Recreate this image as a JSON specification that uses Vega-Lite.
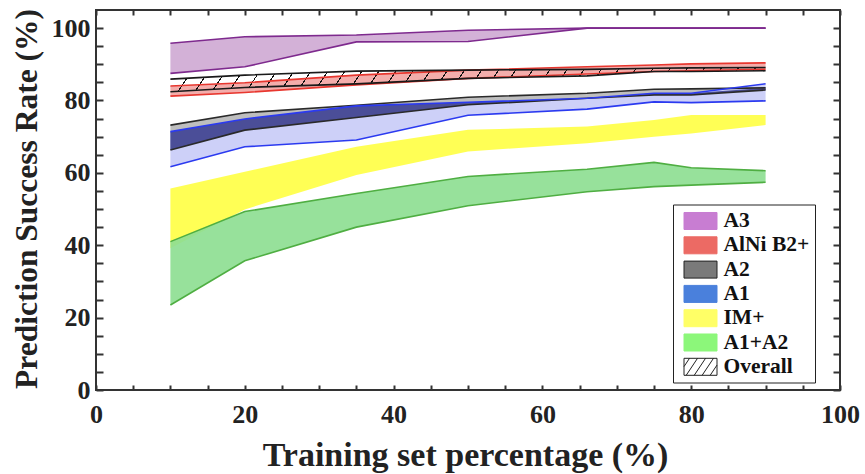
{
  "$schema": "https://vega.github.io/schema/vega-lite/v6.json",
  "width": 744,
  "height": 380,
  "autosize": {"type": "none"},
  "padding": {"left": 96, "top": 10, "right": 25, "bottom": 84},
  "background": "white",
  "config": {
    "font": "Liberation Serif",
    "view": {"stroke": "#333", "strokeWidth": 2},
    "axis": {
      "grid": false,
      "domain": false,
      "tickColor": "#333",
      "tickWidth": 2,
      "labelFont": "Liberation Serif",
      "labelFontWeight": "bold",
      "labelFontSize": 26,
      "labelColor": "#222",
      "titleFont": "Liberation Serif",
      "titleFontWeight": "bold",
      "titleColor": "#222"
    }
  },
  "data": {
    "values": [
      {"s": "A3", "x": 10, "lo": 87.5, "hi": 95.8},
      {"s": "A3", "x": 20, "lo": 89.3, "hi": 97.6},
      {"s": "A3", "x": 35, "lo": 96.2, "hi": 98.1},
      {"s": "A3", "x": 50, "lo": 96.3, "hi": 99.4},
      {"s": "A3", "x": 66, "lo": 100, "hi": 100},
      {"s": "A3", "x": 75, "lo": 100, "hi": 100},
      {"s": "A3", "x": 80, "lo": 100, "hi": 100},
      {"s": "A3", "x": 90, "lo": 100, "hi": 100},
      {"s": "AlNi B2+", "x": 10, "lo": 81.2, "hi": 84.0},
      {"s": "AlNi B2+", "x": 20, "lo": 82.2, "hi": 84.9},
      {"s": "AlNi B2+", "x": 35, "lo": 84.3, "hi": 87.0},
      {"s": "AlNi B2+", "x": 50, "lo": 86.1, "hi": 88.4},
      {"s": "AlNi B2+", "x": 66, "lo": 87.3, "hi": 89.3},
      {"s": "AlNi B2+", "x": 75, "lo": 88.0, "hi": 89.8},
      {"s": "AlNi B2+", "x": 80, "lo": 88.2, "hi": 90.1},
      {"s": "AlNi B2+", "x": 90, "lo": 88.6, "hi": 90.4},
      {"s": "Overall", "x": 10, "lo": 82.4, "hi": 85.9},
      {"s": "Overall", "x": 20, "lo": 83.6, "hi": 87.0},
      {"s": "Overall", "x": 35, "lo": 84.6, "hi": 88.1},
      {"s": "Overall", "x": 50, "lo": 86.1, "hi": 88.4},
      {"s": "Overall", "x": 66, "lo": 86.8, "hi": 88.6},
      {"s": "Overall", "x": 75, "lo": 88.0, "hi": 88.9},
      {"s": "Overall", "x": 80, "lo": 88.0, "hi": 89.0},
      {"s": "Overall", "x": 90, "lo": 88.2, "hi": 89.1},
      {"s": "A2", "x": 10, "lo": 66.3, "hi": 73.2},
      {"s": "A2", "x": 20, "lo": 71.8, "hi": 76.6},
      {"s": "A2", "x": 35, "lo": 75.3, "hi": 78.7},
      {"s": "A2", "x": 50, "lo": 78.8, "hi": 80.9},
      {"s": "A2", "x": 66, "lo": 80.6, "hi": 82.0},
      {"s": "A2", "x": 75, "lo": 81.5, "hi": 83.1},
      {"s": "A2", "x": 80, "lo": 81.5, "hi": 83.2},
      {"s": "A2", "x": 90, "lo": 82.9, "hi": 83.5},
      {"s": "A1", "x": 10, "lo": 61.7, "hi": 71.4},
      {"s": "A1", "x": 20, "lo": 67.2, "hi": 74.9},
      {"s": "A1", "x": 35, "lo": 69.1, "hi": 78.5},
      {"s": "A1", "x": 50, "lo": 75.9, "hi": 79.5},
      {"s": "A1", "x": 66, "lo": 77.6, "hi": 80.6},
      {"s": "A1", "x": 75, "lo": 79.6, "hi": 82.0},
      {"s": "A1", "x": 80, "lo": 79.4, "hi": 82.0},
      {"s": "A1", "x": 90, "lo": 79.9, "hi": 84.6},
      {"s": "A1A2ov", "x": 10, "lo": 66.3, "hi": 71.4},
      {"s": "A1A2ov", "x": 20, "lo": 71.8, "hi": 74.9},
      {"s": "A1A2ov", "x": 35, "lo": 75.3, "hi": 78.5},
      {"s": "A1A2ov", "x": 50, "lo": 78.8, "hi": 79.5},
      {"s": "A1A2ov", "x": 66, "lo": 80.6, "hi": 80.6},
      {"s": "A1A2ov", "x": 75, "lo": 81.5, "hi": 82.0},
      {"s": "A1A2ov", "x": 80, "lo": 81.5, "hi": 82.0},
      {"s": "A1A2ov", "x": 90, "lo": 82.9, "hi": 83.5},
      {"s": "IM+", "x": 10, "lo": 39.2, "hi": 55.7},
      {"s": "IM+", "x": 20, "lo": 49.9, "hi": 60.3},
      {"s": "IM+", "x": 35, "lo": 59.4, "hi": 67.2},
      {"s": "IM+", "x": 50, "lo": 65.9, "hi": 71.9},
      {"s": "IM+", "x": 66, "lo": 68.2, "hi": 72.8},
      {"s": "IM+", "x": 75, "lo": 70.0, "hi": 74.6},
      {"s": "IM+", "x": 80, "lo": 70.9, "hi": 76.0},
      {"s": "IM+", "x": 90, "lo": 73.2, "hi": 76.0},
      {"s": "A1+A2", "x": 10, "lo": 23.5, "hi": 41.0},
      {"s": "A1+A2", "x": 20, "lo": 35.7, "hi": 49.3},
      {"s": "A1+A2", "x": 35, "lo": 45.0, "hi": 54.3},
      {"s": "A1+A2", "x": 50, "lo": 50.9, "hi": 59.0},
      {"s": "A1+A2", "x": 66, "lo": 54.8, "hi": 61.0},
      {"s": "A1+A2", "x": 75, "lo": 56.2, "hi": 62.9},
      {"s": "A1+A2", "x": 80, "lo": 56.6, "hi": 61.4},
      {"s": "A1+A2", "x": 90, "lo": 57.4, "hi": 60.6}
    ]
  },
  "layer": [
    {
      "transform": [{"filter": {"field": "s", "oneOf": ["A3", "AlNi B2+", "IM+", "A1", "A2"]}}],
      "mark": {"type": "area", "fillOpacity": 1},
      "encoding": {
        "x": {"field": "x", "type": "quantitative", "scale": {"domain": [0, 100], "nice": false},
          "axis": {"orient": "bottom", "values": [0,5,10,15,20,25,30,35,40,45,50,55,60,65,70,75,80,85,90,95,100],
            "labelExpr": "datum.value % 20 === 0 ? datum.label : ''", "tickSize": -5, "labelPadding": 16,
            "labelFlush": false, "labelOverlap": false,
            "title": "Training set percentage (%)", "titleFontSize": 34, "titleX": 369, "titleY": 65, "titleBaseline": "middle"}},
        "y": {"field": "lo", "type": "quantitative", "scale": {"domain": [0, 105], "nice": false},
          "axis": {"orient": "left", "values": [0,5,10,15,20,25,30,35,40,45,50,55,60,65,70,75,80,85,90,95,100],
            "labelExpr": "datum.value % 20 === 0 ? datum.label : ''", "tickSize": -7, "labelPadding": 13,
            "labelFlush": false, "labelOverlap": false,
            "title": "Prediction Success Rate (%)", "titleFontSize": 31.5, "titleX": -69, "titleY": 188.5, "titleBaseline": "middle"}},
        "y2": {"field": "hi"},
        "fill": {"field": "s", "type": "nominal", "legend": null,
          "scale": {"domain": ["A3", "AlNi B2+", "IM+", "A1", "A2"], "range": ["#D3B1D7", "#F3ADAB", "#FFFF55", "#CDD0F8", "#BEBEBE"]}}
      }
    },
    {
      "transform": [{"filter": {"field": "s", "equal": "A1+A2"}}],
      "mark": {"type": "area", "fill": "#8EDE92", "fillOpacity": 0.92},
      "encoding": {
        "x": {"field": "x", "type": "quantitative", "axis": null},
        "y": {"field": "lo", "type": "quantitative", "axis": null},
        "y2": {"field": "hi"}
      }
    },
    {
      "transform": [{"filter": {"field": "s", "equal": "A1A2ov"}}],
      "mark": {"type": "area", "fill": "#4B4E98"},
      "encoding": {
        "x": {"field": "x", "type": "quantitative", "axis": null},
        "y": {"field": "lo", "type": "quantitative", "axis": null},
        "y2": {"field": "hi"}
      }
    },
    {
      "transform": [{"filter": {"field": "s", "equal": "Overall"}}],
      "mark": {"type": "area", "fill": {"gradient": "linear", "x1": 0, "y1": 0, "x2": 1, "y2": 0.0271, "stops": [
        {"offset": 0.0100, "color": "rgba(0,0,0,0)"}, {"offset": 0.0100, "color": "#111"}, {"offset": 0.0122, "color": "#111"}, {"offset": 0.0122, "color": "rgba(0,0,0,0)"},
        {"offset": 0.0386, "color": "rgba(0,0,0,0)"}, {"offset": 0.0386, "color": "#111"}, {"offset": 0.0408, "color": "#111"}, {"offset": 0.0408, "color": "rgba(0,0,0,0)"},
        {"offset": 0.0671, "color": "rgba(0,0,0,0)"}, {"offset": 0.0671, "color": "#111"}, {"offset": 0.0693, "color": "#111"}, {"offset": 0.0693, "color": "rgba(0,0,0,0)"},
        {"offset": 0.0957, "color": "rgba(0,0,0,0)"}, {"offset": 0.0957, "color": "#111"}, {"offset": 0.0979, "color": "#111"}, {"offset": 0.0979, "color": "rgba(0,0,0,0)"},
        {"offset": 0.1243, "color": "rgba(0,0,0,0)"}, {"offset": 0.1243, "color": "#111"}, {"offset": 0.1265, "color": "#111"}, {"offset": 0.1265, "color": "rgba(0,0,0,0)"},
        {"offset": 0.1529, "color": "rgba(0,0,0,0)"}, {"offset": 0.1529, "color": "#111"}, {"offset": 0.1551, "color": "#111"}, {"offset": 0.1551, "color": "rgba(0,0,0,0)"},
        {"offset": 0.1814, "color": "rgba(0,0,0,0)"}, {"offset": 0.1814, "color": "#111"}, {"offset": 0.1836, "color": "#111"}, {"offset": 0.1836, "color": "rgba(0,0,0,0)"},
        {"offset": 0.2100, "color": "rgba(0,0,0,0)"}, {"offset": 0.2100, "color": "#111"}, {"offset": 0.2122, "color": "#111"}, {"offset": 0.2122, "color": "rgba(0,0,0,0)"},
        {"offset": 0.2386, "color": "rgba(0,0,0,0)"}, {"offset": 0.2386, "color": "#111"}, {"offset": 0.2408, "color": "#111"}, {"offset": 0.2408, "color": "rgba(0,0,0,0)"},
        {"offset": 0.2671, "color": "rgba(0,0,0,0)"}, {"offset": 0.2671, "color": "#111"}, {"offset": 0.2693, "color": "#111"}, {"offset": 0.2693, "color": "rgba(0,0,0,0)"},
        {"offset": 0.2957, "color": "rgba(0,0,0,0)"}, {"offset": 0.2957, "color": "#111"}, {"offset": 0.2979, "color": "#111"}, {"offset": 0.2979, "color": "rgba(0,0,0,0)"},
        {"offset": 0.3243, "color": "rgba(0,0,0,0)"}, {"offset": 0.3243, "color": "#111"}, {"offset": 0.3265, "color": "#111"}, {"offset": 0.3265, "color": "rgba(0,0,0,0)"},
        {"offset": 0.3529, "color": "rgba(0,0,0,0)"}, {"offset": 0.3529, "color": "#111"}, {"offset": 0.3551, "color": "#111"}, {"offset": 0.3551, "color": "rgba(0,0,0,0)"},
        {"offset": 0.3814, "color": "rgba(0,0,0,0)"}, {"offset": 0.3814, "color": "#111"}, {"offset": 0.3836, "color": "#111"}, {"offset": 0.3836, "color": "rgba(0,0,0,0)"},
        {"offset": 0.4100, "color": "rgba(0,0,0,0)"}, {"offset": 0.4100, "color": "#111"}, {"offset": 0.4122, "color": "#111"}, {"offset": 0.4122, "color": "rgba(0,0,0,0)"},
        {"offset": 0.4386, "color": "rgba(0,0,0,0)"}, {"offset": 0.4386, "color": "#111"}, {"offset": 0.4408, "color": "#111"}, {"offset": 0.4408, "color": "rgba(0,0,0,0)"},
        {"offset": 0.4671, "color": "rgba(0,0,0,0)"}, {"offset": 0.4671, "color": "#111"}, {"offset": 0.4693, "color": "#111"}, {"offset": 0.4693, "color": "rgba(0,0,0,0)"},
        {"offset": 0.4957, "color": "rgba(0,0,0,0)"}, {"offset": 0.4957, "color": "#111"}, {"offset": 0.4979, "color": "#111"}, {"offset": 0.4979, "color": "rgba(0,0,0,0)"},
        {"offset": 0.5243, "color": "rgba(0,0,0,0)"}, {"offset": 0.5243, "color": "#111"}, {"offset": 0.5265, "color": "#111"}, {"offset": 0.5265, "color": "rgba(0,0,0,0)"},
        {"offset": 0.5529, "color": "rgba(0,0,0,0)"}, {"offset": 0.5529, "color": "#111"}, {"offset": 0.5551, "color": "#111"}, {"offset": 0.5551, "color": "rgba(0,0,0,0)"},
        {"offset": 0.5814, "color": "rgba(0,0,0,0)"}, {"offset": 0.5814, "color": "#111"}, {"offset": 0.5836, "color": "#111"}, {"offset": 0.5836, "color": "rgba(0,0,0,0)"},
        {"offset": 0.6100, "color": "rgba(0,0,0,0)"}, {"offset": 0.6100, "color": "#111"}, {"offset": 0.6122, "color": "#111"}, {"offset": 0.6122, "color": "rgba(0,0,0,0)"},
        {"offset": 0.6386, "color": "rgba(0,0,0,0)"}, {"offset": 0.6386, "color": "#111"}, {"offset": 0.6408, "color": "#111"}, {"offset": 0.6408, "color": "rgba(0,0,0,0)"},
        {"offset": 0.6671, "color": "rgba(0,0,0,0)"}, {"offset": 0.6671, "color": "#111"}, {"offset": 0.6693, "color": "#111"}, {"offset": 0.6693, "color": "rgba(0,0,0,0)"},
        {"offset": 0.6957, "color": "rgba(0,0,0,0)"}, {"offset": 0.6957, "color": "#111"}, {"offset": 0.6979, "color": "#111"}, {"offset": 0.6979, "color": "rgba(0,0,0,0)"},
        {"offset": 0.7243, "color": "rgba(0,0,0,0)"}, {"offset": 0.7243, "color": "#111"}, {"offset": 0.7265, "color": "#111"}, {"offset": 0.7265, "color": "rgba(0,0,0,0)"},
        {"offset": 0.7529, "color": "rgba(0,0,0,0)"}, {"offset": 0.7529, "color": "#111"}, {"offset": 0.7551, "color": "#111"}, {"offset": 0.7551, "color": "rgba(0,0,0,0)"},
        {"offset": 0.7814, "color": "rgba(0,0,0,0)"}, {"offset": 0.7814, "color": "#111"}, {"offset": 0.7836, "color": "#111"}, {"offset": 0.7836, "color": "rgba(0,0,0,0)"},
        {"offset": 0.8100, "color": "rgba(0,0,0,0)"}, {"offset": 0.8100, "color": "#111"}, {"offset": 0.8122, "color": "#111"}, {"offset": 0.8122, "color": "rgba(0,0,0,0)"},
        {"offset": 0.8386, "color": "rgba(0,0,0,0)"}, {"offset": 0.8386, "color": "#111"}, {"offset": 0.8408, "color": "#111"}, {"offset": 0.8408, "color": "rgba(0,0,0,0)"},
        {"offset": 0.8671, "color": "rgba(0,0,0,0)"}, {"offset": 0.8671, "color": "#111"}, {"offset": 0.8693, "color": "#111"}, {"offset": 0.8693, "color": "rgba(0,0,0,0)"},
        {"offset": 0.8957, "color": "rgba(0,0,0,0)"}, {"offset": 0.8957, "color": "#111"}, {"offset": 0.8979, "color": "#111"}, {"offset": 0.8979, "color": "rgba(0,0,0,0)"},
        {"offset": 0.9243, "color": "rgba(0,0,0,0)"}, {"offset": 0.9243, "color": "#111"}, {"offset": 0.9265, "color": "#111"}, {"offset": 0.9265, "color": "rgba(0,0,0,0)"},
        {"offset": 0.9529, "color": "rgba(0,0,0,0)"}, {"offset": 0.9529, "color": "#111"}, {"offset": 0.9551, "color": "#111"}, {"offset": 0.9551, "color": "rgba(0,0,0,0)"},
        {"offset": 0.9814, "color": "rgba(0,0,0,0)"}, {"offset": 0.9814, "color": "#111"}, {"offset": 0.9836, "color": "#111"}, {"offset": 0.9836, "color": "rgba(0,0,0,0)"}
      ]}},
      "encoding": {
        "x": {"field": "x", "type": "quantitative", "axis": null},
        "y": {"field": "lo", "type": "quantitative", "axis": null},
        "y2": {"field": "hi"}
      }
    },
    {
      "transform": [{"filter": {"field": "s", "oneOf": ["A3", "AlNi B2+", "A1", "A2", "A1+A2", "Overall"]}}],
      "mark": {"type": "line", "strokeWidth": 1.6},
      "encoding": {
        "x": {"field": "x", "type": "quantitative", "axis": null},
        "y": {"field": "lo", "type": "quantitative", "axis": null},
        "stroke": {"field": "s", "type": "nominal", "legend": null,
          "scale": {"domain": ["A3", "AlNi B2+", "A1+A2", "A1", "A2", "Overall"], "range": ["#7E2A8E", "#E8372F", "#4FAE42", "#2B3AF0", "#2A2A2A", "#1A1A1A"]}}
      }
    },
    {
      "transform": [{"filter": {"field": "s", "oneOf": ["A3", "AlNi B2+", "A1", "A2", "A1+A2", "Overall"]}}],
      "mark": {"type": "line", "strokeWidth": 1.6},
      "encoding": {
        "x": {"field": "x", "type": "quantitative", "axis": null},
        "y": {"field": "hi", "type": "quantitative", "axis": null},
        "stroke": {"field": "s", "type": "nominal", "legend": null}
      }
    },
    {
      "transform": [{"filter": {"field": "s", "oneOf": ["A3", "AlNi B2+", "A2", "A1", "IM+", "A1+A2", "Overall"]}}],
      "mark": {"type": "area", "opacity": 0},
      "encoding": {
        "x": {"field": "x", "type": "quantitative",
          "axis": {"orient": "top", "values": [0,5,10,15,20,25,30,35,40,45,50,55,60,65,70,75,80,85,90,95,100], "labels": false, "tickSize": -5, "title": null}},
        "y": {"field": "lo", "type": "quantitative",
          "axis": {"orient": "right", "values": [0,5,10,15,20,25,30,35,40,45,50,55,60,65,70,75,80,85,90,95,100], "labels": false, "tickSize": -7, "title": null}},
        "y2": {"field": "hi"},
        "color": {"field": "s", "type": "nominal",
          "scale": {"domain": ["A3", "AlNi B2+", "A2", "A1", "IM+", "A1+A2", "Overall"], "range": ["#C87DD2", "#EC6A64", "#7A7A7A", "#4A80DC", "#FFFF66", "#8CF77A", "#FFFFFF"]},
          "legend": {
            "title": null, "orient": "none", "legendX": 577, "legendY": 194.5,
            "fillColor": "white", "strokeColor": "#222", "padding": 5, "rowPadding": 1.3,
            "symbolType": "M-0.5,-0.773L2.5,-0.773L2.5,0.773L-0.5,0.773Z", "symbolSize": 484, "symbolStrokeWidth": 1,
            "labelFont": "Liberation Serif", "labelFontWeight": "bold", "labelFontSize": 21.5, "labelColor": "#111", "labelOffset": 22.5,
            "encode": {
              "symbols": {"update": {
                "opacity": {"value": 1},
                "fillOpacity": {"value": 1},
                "shape": [
                  {"test": "datum.value === 'Overall'", "value": "M-0.5,-0.773L2.5,-0.773L2.5,0.773L-0.5,0.773Z M-0.5,-0.02L0,-0.773 M-0.3,0.773L0.73,-0.773 M0.43,0.773L1.46,-0.773 M1.15,0.773L2.18,-0.773 M1.88,0.773L2.5,-0.157"},
                  {"value": "M-0.5,-0.773L2.5,-0.773L2.5,0.773L-0.5,0.773Z"}
                ],
                "fill": {"scale": "color", "field": "value"},
                "stroke": [
                  {"test": "datum.value === 'Overall' || datum.value === 'A2'", "value": "#222"},
                  {"scale": "color", "field": "value"}
                ]
              }}
            }
          }}
      }
    }
  ],
  "resolve": {"axis": {"x": "independent", "y": "independent"}}
}
